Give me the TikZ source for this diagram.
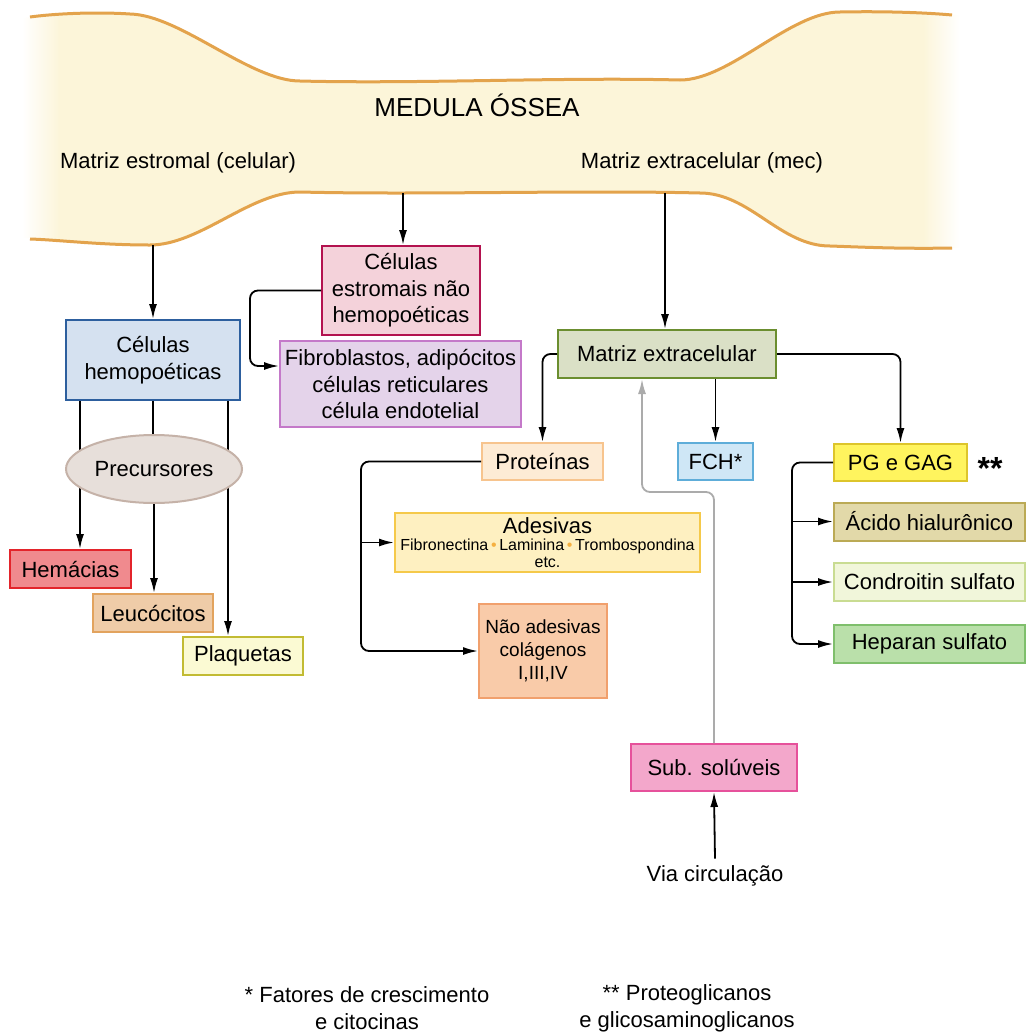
\documentclass[tikz,border=0pt]{standalone}
\usepackage{fontspec}
\setmainfont{Liberation Sans}
\usepackage{tikz}
\usetikzlibrary{arrows.meta}
\usetikzlibrary{shapes.geometric}

\definecolor{bonefill}{HTML}{FCF5D9}
\definecolor{bonedraw}{HTML}{E3A34C}
\definecolor{hemofill}{HTML}{D5E1F0}
\definecolor{hemodraw}{HTML}{2D5F9E}
\definecolor{estrofill}{HTML}{F4D2DA}
\definecolor{estrodraw}{HTML}{B3124F}
\definecolor{fibrofill}{HTML}{E4D3EA}
\definecolor{fibrodraw}{HTML}{C479C9}
\definecolor{precfill}{HTML}{E7DFDA}
\definecolor{precdraw}{HTML}{C5B2A8}
\definecolor{hemafill}{HTML}{F08A8E}
\definecolor{hemadraw}{HTML}{E3242B}
\definecolor{leucofill}{HTML}{EFCCA8}
\definecolor{leucodraw}{HTML}{E2A35E}
\definecolor{plaqfill}{HTML}{FBFAD3}
\definecolor{plaqdraw}{HTML}{C2BB33}
\definecolor{mecfill}{HTML}{DAE0C6}
\definecolor{mecdraw}{HTML}{6B8E2F}
\definecolor{protfill}{HTML}{FDEBD5}
\definecolor{protdraw}{HTML}{F7C48E}
\definecolor{fchfill}{HTML}{CFE7F6}
\definecolor{fchdraw}{HTML}{5EADD9}
\definecolor{adesfill}{HTML}{FEF0C1}
\definecolor{adesdraw}{HTML}{F5C94A}
\definecolor{naofill}{HTML}{F9CBA9}
\definecolor{naodraw}{HTML}{F1A06D}
\definecolor{subfill}{HTML}{F3A7CB}
\definecolor{subdraw}{HTML}{E6519B}
\definecolor{pgfill}{HTML}{FFF45E}
\definecolor{pgdraw}{HTML}{DDC52B}
\definecolor{acidofill}{HTML}{E2D9A9}
\definecolor{acidodraw}{HTML}{BBAA55}
\definecolor{condrofill}{HTML}{F1F6DA}
\definecolor{condrodraw}{HTML}{C9DC92}
\definecolor{hepafill}{HTML}{BAE0AA}
\definecolor{hepadraw}{HTML}{7FBF6C}
\definecolor{dotorange}{HTML}{F5B041}
\definecolor{greyline}{HTML}{ABABAB}

\pgfdeclarehorizontalshading{bonefade}{100bp}{color(0bp)=(white); color(25bp)=(white); color(27bp)=(bonefill); color(73bp)=(bonefill); color(75bp)=(white); color(100bp)=(white)}

\begin{document}
\begin{tikzpicture}[x=0.5pt,y=-0.5pt,
    every node/.style={font=\fontsize{11}{13.3}\selectfont},
    box/.style={draw,line width=1pt,inner sep=0pt,align=center},
    con/.style={line width=0.9pt,rounded corners=4pt,-{Latex[length=7.5pt,width=4pt]}},
    greycon/.style={con,greyline},
    plain/.style={line width=0.9pt}]
\useasboundingbox (0,0) rectangle (1027,1034);

\shade[shading=bonefade] (22,18) .. controls (60,13) and (100,12) .. (130,14)
    .. controls (180,15) and (250,81) .. (300,81)
    .. controls (420,84) and (560,77) .. (680,80)
    .. controls (730,80) and (790,12) .. (840,12)
    .. controls (890,11) and (930,13) .. (960,15)
    -- (960,248)
    .. controls (900,249) and (860,247) .. (830,246)
    .. controls (780,246) and (750,193) .. (700,193)
    .. controls (580,190) and (420,195) .. (300,192)
    .. controls (250,192) and (200,245) .. (150,245)
    .. controls (100,245) and (60,240) .. (22,238) -- cycle;
\draw[bonedraw,line width=1.5pt] (30,17) .. controls (60,13) and (100,12) .. (130,14)
    .. controls (180,15) and (250,81) .. (300,81)
    .. controls (420,84) and (560,77) .. (680,80)
    .. controls (730,80) and (790,12) .. (840,12)
    .. controls (890,11) and (930,13) .. (952,15);
\draw[bonedraw,line width=1.5pt] (952,248)
    .. controls (900,249) and (860,247) .. (830,246)
    .. controls (780,246) and (750,193) .. (700,193)
    .. controls (580,190) and (420,195) .. (300,192)
    .. controls (250,192) and (200,245) .. (150,245)
    .. controls (100,245) and (60,240) .. (30,239);

\node (title) at (477,105) {\fontsize{13}{15}\selectfont MEDULA ÓSSEA};
\node (estromal) at (178,163) {Matriz estromal (celular)};
\node (extracel) at (702,163) {Matriz extracelular (mec)};

\coordinate (boneL) at (153,245);
\coordinate (boneM) at (403,193);
\coordinate (boneR) at (665,193);

\node[box,fill=hemofill,draw=hemodraw,minimum width=87pt,minimum height=40pt] (hemo) at (153,360) {Células\\hemopoéticas};
\node[box,fill=estrofill,draw=estrodraw,minimum width=79pt,minimum height=44.5pt] (estro) at (401,290.5) {Células\\estromais não\\hemopoéticas};
\node[box,fill=fibrofill,draw=fibrodraw,minimum width=120.5pt,minimum height=43pt] (fibro) at (400.5,384) {Fibroblastos, adipócitos\\células reticulares\\célula endotelial};

\node[box,fill=hemafill,draw=hemadraw,minimum width=60.5pt,minimum height=19pt] (hema) at (70.5,569) {Hemácias};
\node[box,fill=leucofill,draw=leucodraw,minimum width=60pt,minimum height=19pt] (leuco) at (153,613) {Leucócitos};
\node[box,fill=plaqfill,draw=plaqdraw,minimum width=60pt,minimum height=19pt] (plaq) at (243,656) {Plaquetas};

\draw[con] ([xshift=-36.5pt]hemo.south) -- ([xshift=-36.5pt]hemo.south |- hema.north);
\draw[con] ([xshift=37.5pt]hemo.south) -- ([xshift=37.5pt]hemo.south |- plaq.north);
\draw[plain] (hemo.south) -- ++(0,40);

\node[ellipse,draw=precdraw,fill=precfill,line width=1pt,minimum width=88pt,minimum height=34pt,inner sep=0pt] (prec) at (154,469) {Precursores};
\draw[con] (prec.south) -- (prec.south |- leuco.north);

\draw[con] (boneL) -- (hemo.north);
\draw[con] (boneM) -- (boneM |- estro.north);
\coordinate (estroturn) at (250,0);
\draw[con] (estro.west) -- (estro.west -| estroturn) |- ([yshift=9pt]fibro.west);

\node[box,fill=mecfill,draw=mecdraw,minimum width=109pt,minimum height=24pt] (mec) at (667,354) {Matriz extracelular};
\draw[con] (boneR) -- (boneR |- mec.north);

\node[box,fill=protfill,draw=protdraw,minimum width=60.5pt,minimum height=18.5pt] (prot) at (542.5,461.5) {Proteínas};
\node[box,fill=fchfill,draw=fchdraw,minimum width=37.5pt,minimum height=18.5pt] (fch) at (715.5,461.5) {FCH*};
\node[box,fill=adesfill,draw=adesdraw,minimum width=152.5pt,minimum height=29.5pt,font=\fontsize{8}{8.5}\selectfont] (ades) at (547.5,542.5)
    {{\fontsize{11}{11}\selectfont Adesivas}\\Fibronectina{\color{dotorange}\,\textbullet\,}Laminina{\color{dotorange}\,\textbullet\,}Trombospondina\\etc.};
\node[box,fill=naofill,draw=naodraw,minimum width=64pt,minimum height=47pt,font=\fontsize{9.5}{11.5}\selectfont] (naoades) at (543,651) {Não adesivas\\colágenos\\I,III,IV};

\node[box,fill=pgfill,draw=pgdraw,minimum width=66.5pt,minimum height=18.5pt] (pg) at (900.5,462.5) {PG e GAG};
\node (stars) at (990,468) {\fontsize{16}{16}\selectfont\bfseries **};

\draw[con] (mec.west) -| (prot.north);
\draw[con] (mec.south -| fch.north) -- (fch.north);
\draw[con] (mec.east) -| (pg.north);

\coordinate (protturn) at (361,0);
\draw[con] (prot.west) -- (prot.west -| protturn) |- (naoades.west);
\draw[con] (protturn |- ades.west) -- (ades.west);

\node[box,fill=acidofill,draw=acidodraw,minimum width=95.5pt,minimum height=19pt] (acido) at (929.5,521.5) {Ácido hialurônico};
\node[box,fill=condrofill,draw=condrodraw,minimum width=95.5pt,minimum height=19pt] (condro) at (929.5,582) {Condroitin sulfato};
\node[box,fill=hepafill,draw=hepadraw,minimum width=95.5pt,minimum height=19pt] (hepa) at (929.5,644) {Heparan sulfato};

\coordinate (pgturn) at (792,0);
\draw[con] (pg.west) -- (pg.west -| pgturn) |- (hepa.west);
\draw[con] (pgturn |- acido.west) -- (acido.west);
\draw[con] (pgturn |- condro.west) -- (condro.west);

\node[box,fill=subfill,draw=subdraw,minimum width=83pt,minimum height=23.5pt] (subsol) at (714,767.5) {Sub. solúveis};
\node (via) at (715,876) {Via circulação};
\draw[con] (via.north) -- (subsol.south);
\coordinate (greyturn) at (642,492);
\draw[greycon] (subsol.north) |- (greyturn) -- (greyturn |- mec.south);

\node[align=center] (note1) at (367,1008) {* Fatores de crescimento\\e citocinas};
\node[align=center] (note2) at (687,1008) {** Proteoglicanos\\e glicosaminoglicanos};
\end{tikzpicture}
\end{document}
